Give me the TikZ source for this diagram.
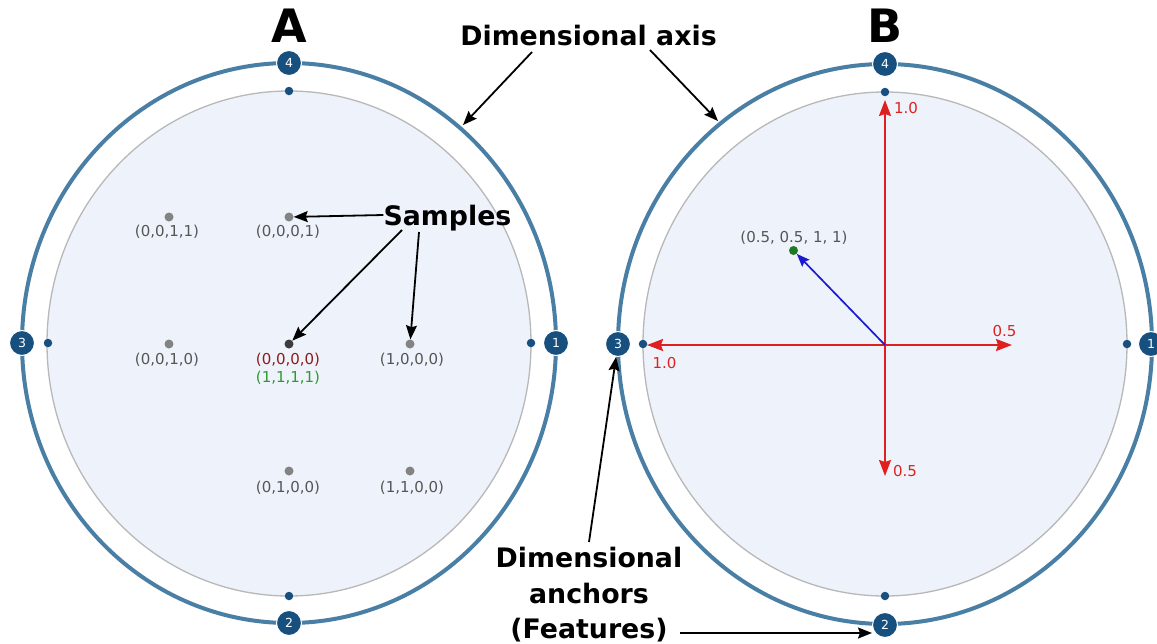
\documentclass[tikz,border=0pt]{standalone}
\usepackage{fontspec}
\setmainfont{DejaVu Sans}
\usetikzlibrary{arrows.meta}
\definecolor{ring}{HTML}{4A7FA5}
\definecolor{badge}{HTML}{17507E}
\definecolor{disc}{HTML}{EEF3FB}
\definecolor{rim}{HTML}{B8B8B8}
\definecolor{lbl}{HTML}{555555}
\definecolor{sdot}{HTML}{838383}
\definecolor{sdotdark}{HTML}{3C3C3C}
\definecolor{redax}{HTML}{E0201E}
\definecolor{lblred}{HTML}{8E1B1B}
\definecolor{lblgreen}{HTML}{2E9A2E}
\definecolor{vecblue}{HTML}{1A1AD0}
\definecolor{ptgreen}{HTML}{1E7A1E}
\begin{document}
\begin{tikzpicture}[x=1pt,y=-1pt,
  badgenode/.style={circle,fill=badge,draw=white,line width=1pt,minimum size=25pt,inner sep=0pt,text=white,font=\fontsize{12.5}{12.5}\selectfont},
  anchordot/.style={circle,fill=badge,minimum size=8.5pt,inner sep=0pt},
  sampledot/.style={circle,fill=sdot,minimum size=9pt,inner sep=0pt},
  samplelbl/.style={text=lbl,font=\fontsize{15}{15}\selectfont,inner sep=0pt,anchor=base},
  redlbl/.style={text=redax,font=\fontsize{15}{15}\selectfont,inner sep=0pt,anchor=base},
  calloutlbl/.style={font=\bfseries\fontsize{26.8}{30}\selectfont,inner sep=0pt,anchor=base},
  panellbl/.style={font=\bfseries\fontsize{46}{46}\selectfont,inner sep=0pt,anchor=base},
  callout/.style={-{Stealth[length=14pt,width=11pt,inset=2pt]},line width=1.8pt},
  redarrow/.style={-{Stealth[length=16pt,width=12pt,inset=2pt]},draw=redax,line width=1.8pt},
  bluearrow/.style={-{Stealth[length=13pt,width=10pt,inset=2pt]},draw=vecblue,line width=1.7pt}]
\useasboundingbox (0,0) rectangle (1157,643);
\fill[white] (0,0) rectangle (1157,643);

% ---------- Panel A ----------
\draw[ring,line width=4pt] (289,343) ellipse [x radius=267pt, y radius=280pt];
\draw[rim,fill=disc,line width=1.3pt] (289,343.5) ellipse [x radius=242pt, y radius=252.5pt];
\node[anchordot] (ad4) at (289,91) {};
\node[anchordot] (ad2) at (289,596) {};
\node[anchordot] (ad3) at (48,343) {};
\node[anchordot] (ad1) at (531,343) {};
\node[badgenode] (a4) at (289,63) {4};
\node[badgenode] (a2) at (289,623) {2};
\node[badgenode] (a3) at (22,343) {3};
\node[badgenode] (a1) at (556,343) {1};
\node[panellbl] (labA) at (289,42) {A};

\node[sampledot] (s0011) at (169,217) {};
\node[sampledot] (s0001) at (289,217) {};
\node[sampledot] (s0010) at (169,344) {};
\node[sampledot,fill=sdotdark] (s0000) at (289,344) {};
\node[sampledot] (s1000) at (410,344) {};
\node[sampledot] (s0100) at (289,471) {};
\node[sampledot] (s1100) at (410,471) {};
\node[samplelbl] (l0011) at (167,236) {(0,0,1,1)};
\node[samplelbl] (l0001) at (288,236) {(0,0,0,1)};
\node[samplelbl] (l0010) at (167,364) {(0,0,1,0)};
\node[samplelbl,text=lblred] (l0000) at (288,364) {(0,0,0,0)};
\node[samplelbl,text=lblgreen] (l1111) at (288,382) {(1,1,1,1)};
\node[samplelbl] (l1000) at (412,364) {(1,0,0,0)};
\node[samplelbl] (l0100) at (288,492) {(0,1,0,0)};
\node[samplelbl] (l1100) at (412,492) {(1,1,0,0)};

\node[calloutlbl] (samples) at (447.5,225) {Samples};
\draw[callout] ([yshift=10pt]samples.base west) -- (s0001);
\draw[callout] ([xshift=-45.5pt,yshift=-5pt]samples.base) -- (s0000);
\draw[callout] ([xshift=-28.5pt,yshift=-7pt]samples.base) -- (s1000);

% ---------- Panel B ----------
\draw[ring,line width=4pt] (885,344) ellipse [x radius=267pt, y radius=280pt];
\draw[rim,fill=disc,line width=1.3pt] (885,344) ellipse [x radius=242pt, y radius=252pt];
\node[anchordot] (bd4) at (885,92) {};
\node[anchordot] (bd2) at (885,596) {};
\node[anchordot] (bd3) at (643,344) {};
\node[anchordot] (bd1) at (1127,344) {};
\node[badgenode] (b4) at (885,64) {4};
\node[badgenode] (b2) at (885,625) {2};
\node[badgenode] (b3) at (618,344) {3};
\node[badgenode] (b1) at (1151,344) {1};
\node[panellbl] (labB) at (885,42) {B};

\coordinate (oB) at (885,345);
\coordinate (tipU) at (885,100);
\coordinate (tipD) at (885,476);
\coordinate (tipL) at (647,345);
\coordinate (tipR) at (1012,345);
\draw[redarrow] (oB) -- (tipU);
\draw[redarrow] (oB) -- (tipD);
\draw[redarrow] (oB) -- (tipL);
\draw[redarrow] (oB) -- (tipR);
\node[redlbl] (rU) at (906,113) {1.0};
\node[redlbl] (rD) at (905,476) {0.5};
\node[redlbl] (rL) at (664.5,368) {1.0};
\node[redlbl] (rR) at (1004.5,336) {0.5};

\node[circle,fill=ptgreen,minimum size=9pt,inner sep=0pt] (ptg) at (793.5,250.5) {};
\node[samplelbl] (lpt) at (794,242) {(0.5, 0.5, 1, 1)};
\draw[bluearrow] (oB) -- (ptg);

% ---------- Callouts ----------
\node[calloutlbl] (dimaxis) at (588.5,45) {Dimensional axis};
\coordinate (axA) at (463,125);
\coordinate (axB) at (718,121);
\draw[callout] ([xshift=-56.5pt,yshift=-7pt]dimaxis.base) -- (axA);
\draw[callout] ([xshift=61.5pt,yshift=-5pt]dimaxis.base) -- (axB);

\node[calloutlbl] (dimanc1) at (589,567) {Dimensional};
\node[calloutlbl] (dimanc2) at (589,603) {anchors};
\node[calloutlbl] (dimanc3) at (589,638) {(Features)};
\draw[callout] ([yshift=25pt]dimanc1.base) -- (b3);
\coordinate (featstart) at ([xshift=12pt,yshift=5pt]dimanc3.base east);
\draw[callout] (featstart) -- (featstart -| b2.west);
\end{tikzpicture}
\end{document}
